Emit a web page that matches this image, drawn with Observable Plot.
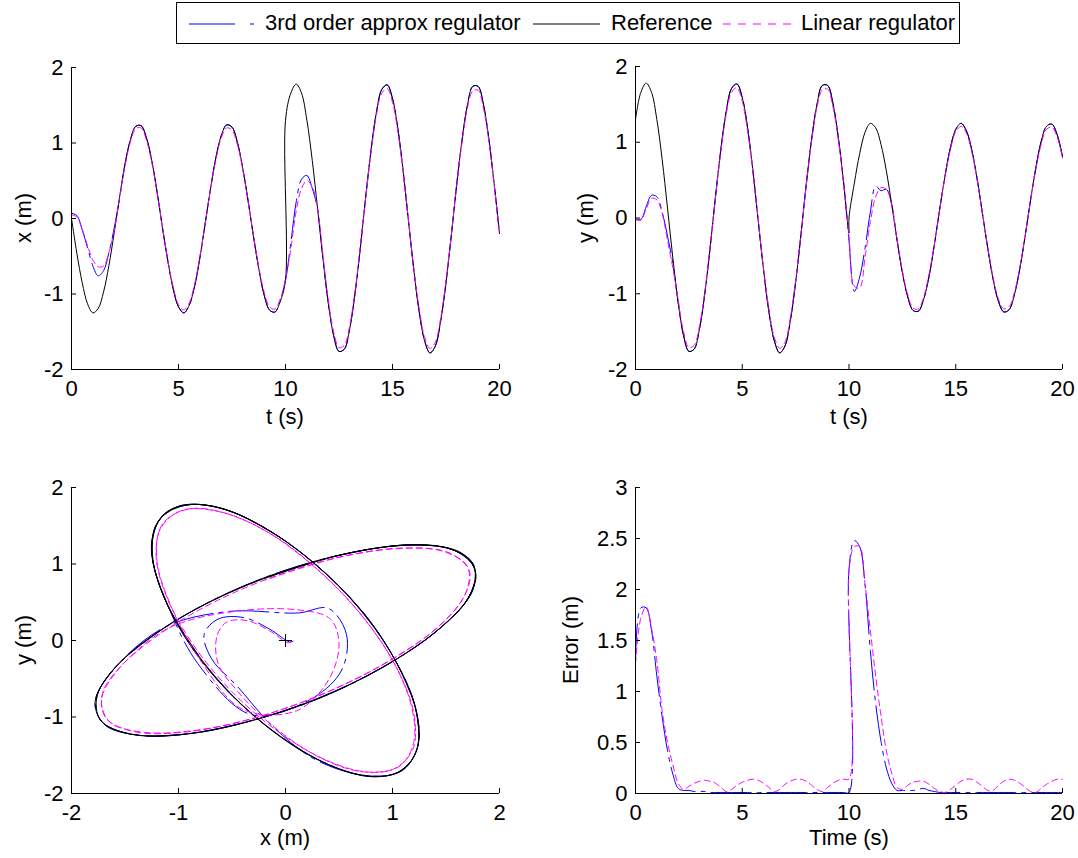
<!DOCTYPE html>
<html><head><meta charset="utf-8">
<script src="https://cdn.jsdelivr.net/npm/d3@7"></script>
<script src="https://cdn.jsdelivr.net/npm/@observablehq/plot@0.6"></script>
<style>
html,body{margin:0;padding:0;background:#fff;}
#wrap{position:relative;width:1078px;height:858px;overflow:hidden;font-family:"Liberation Sans",Arial,Helvetica,sans-serif;color:#000;}
.panel{position:absolute;}
.lbl{position:absolute;font-size:22px;line-height:1;white-space:nowrap;transform:translate(-50%,-50%);}
.lbl.rot{transform:translate(-50%,-50%) rotate(-90deg);}
#legend{position:absolute;left:176px;top:2px;width:782px;height:40px;border:1px solid #000;background:#fff;}
#legend .txt{position:absolute;top:9px;font-size:22px;line-height:1;white-space:nowrap;}
#legend svg{position:absolute;top:11px;}
</style></head>
<body>
<div id="wrap">
  <div id="legend">
    <svg style="left:10px" width="70" height="20"><line x1="2" y1="10" x2="48" y2="10" stroke="#0000ff" stroke-width="1"/><line x1="63" y1="10" x2="67" y2="10" stroke="#0000ff" stroke-width="1"/></svg>
    <span class="txt" style="left:88px">3rd order approx regulator</span>
    <svg style="left:356px" width="70" height="20"><line x1="0" y1="10" x2="67" y2="10" stroke="#000" stroke-width="1"/></svg>
    <span class="txt" style="left:434px">Reference</span>
    <svg style="left:546px" width="70" height="20"><line x1="0" y1="10" x2="68" y2="10" stroke="#ff00ff" stroke-width="1" stroke-dasharray="8,7"/></svg>
    <span class="txt" style="left:624px">Linear regulator</span>
  </div>
  <div class="panel" id="pA" style="left:0;top:50px"></div>
  <div class="panel" id="pB" style="left:560px;top:50px"></div>
  <div class="panel" id="pC" style="left:0;top:470px"></div>
  <div class="panel" id="pD" style="left:560px;top:470px"></div>
  <div class="lbl rot" style="left:24px;top:218px">x (m)</div>
  <div class="lbl" style="left:285px;top:417px">t (s)</div>
  <div class="lbl rot" style="left:586px;top:218px">y (m)</div>
  <div class="lbl" style="left:849px;top:417px">t (s)</div>
  <div class="lbl rot" style="left:24px;top:640px">y (m)</div>
  <div class="lbl" style="left:285px;top:838px">x (m)</div>
  <div class="lbl rot" style="left:571px;top:640px">Error (m)</div>
  <div class="lbl" style="left:849px;top:838px">Time (s)</div>
</div>
<script>
// ---- time grids ----
const tReg = [0,0.25,0.5,0.75,1,1.25,1.5,1.75,2,2.25,2.5,2.75,3,3.25,3.5,3.75,4,4.25,4.5,4.75,5,5.25,5.5,5.75,6,6.25,6.5,6.75,7,7.25,7.5,7.75,8,8.25,8.5,8.75,9,9.25,9.5,9.75,10,10.25,10.5,10.75,11,11.25,11.5,11.75,12,12.25,12.5,12.75,13,13.25,13.5,13.75,14,14.25,14.5,14.75,15,15.25,15.5,15.75,16,16.25,16.5,16.75,17,17.25,17.5,17.75,18,18.25,18.5,18.75,19,19.25,19.5,19.75,20];
const tRef = [0,0.25,0.5,0.75,1,1.25,1.5,1.75,2,2.25,2.5,2.75,3,3.25,3.5,3.75,4,4.25,4.5,4.75,5,5.25,5.5,5.75,6,6.25,6.5,6.75,7,7.25,7.5,7.75,8,8.25,8.5,8.75,9,9.25,9.5,9.75,10,10,10.25,10.5,10.75,11,11.25,11.5,11.75,12,12.25,12.5,12.75,13,13.25,13.5,13.75,14,14.25,14.5,14.75,15,15.25,15.5,15.75,16,16.25,16.5,16.75,17,17.25,17.5,17.75,18,18.25,18.5,18.75,19,19.25,19.5,19.75,20];

// ---- reference trajectory (jump at t = 10) ----
const xRef = [0,-0.46,-0.85,-1.13,-1.25,-1.19,-0.97,-0.62,-0.18,0.29,0.72,1.04,1.22,1.23,1.07,0.77,0.35,-0.12,-0.56,-0.93,-1.17,-1.25,-1.15,-0.90,-0.52,-0.06,0.40,0.81,1.10,1.24,1.21,1.01,0.67,0.24,-0.23,-0.66,-1.01,-1.21,-1.24,-1.10,-0.81,
  1.30,1.66,1.78,1.66,1.30,0.77,0.13,-0.53,-1.12,-1.55,-1.76,-1.73,-1.46,-0.99,-0.38,0.29,0.91,1.41,1.71,1.77,1.59,1.19,0.62,-0.04,-0.69,-1.24,-1.62,-1.78,-1.69,-1.36,-0.85,-0.22,0.45,1.04,1.50,1.75,1.75,1.51,1.06,0.46,-0.20];
const yRef = [1.30,1.66,1.78,1.66,1.30,0.77,0.13,-0.53,-1.12,-1.55,-1.76,-1.73,-1.46,-0.99,-0.38,0.29,0.91,1.41,1.71,1.77,1.59,1.19,0.62,-0.04,-0.69,-1.24,-1.62,-1.78,-1.69,-1.36,-0.85,-0.22,0.45,1.04,1.50,1.75,1.75,1.51,1.06,0.46,-0.20,
  0,0.46,0.85,1.13,1.25,1.19,0.97,0.62,0.18,-0.29,-0.72,-1.04,-1.22,-1.23,-1.07,-0.77,-0.35,0.12,0.56,0.93,1.17,1.25,1.15,0.90,0.52,0.06,-0.40,-0.81,-1.10,-1.24,-1.21,-1.01,-0.67,-0.24,0.23,0.66,1.01,1.21,1.24,1.10,0.81];

// ---- 3rd order approx regulator ----
const x3 = [0.07,0.04,-0.15,-0.39,-0.63,-0.76,-0.69,-0.45,-0.12,0.27,0.72,1.04,1.22,1.23,1.07,0.77,0.35,-0.12,-0.56,-0.93,-1.17,-1.25,-1.15,-0.90,-0.52,-0.06,0.40,0.81,1.10,1.24,1.21,1.01,0.67,0.24,-0.23,-0.66,-1.01,-1.21,-1.24,-1.10,
  -0.82,-0.32,0.22,0.52,0.57,0.40,0.12,-0.53,-1.12,-1.55,-1.76,-1.73,-1.46,-0.99,-0.38,0.29,0.91,1.41,1.71,1.77,1.59,1.19,0.62,-0.04,-0.69,-1.24,-1.62,-1.78,-1.69,-1.36,-0.85,-0.22,0.45,1.04,1.50,1.75,1.75,1.51,1.06,0.46,-0.20];
const y3 = [-0.01,-0.02,0.15,0.30,0.28,0.08,-0.24,-0.60,-1.12,-1.55,-1.76,-1.73,-1.46,-0.99,-0.38,0.29,0.91,1.41,1.71,1.77,1.59,1.19,0.62,-0.04,-0.69,-1.24,-1.62,-1.78,-1.69,-1.36,-0.85,-0.22,0.45,1.04,1.50,1.75,1.75,1.51,1.06,0.46,
  -0.30,-0.97,-0.78,-0.40,0.08,0.42,0.36,0.38,0.18,-0.29,-0.72,-1.04,-1.22,-1.23,-1.07,-0.77,-0.35,0.12,0.56,0.93,1.17,1.25,1.15,0.90,0.52,0.06,-0.40,-0.81,-1.10,-1.24,-1.21,-1.01,-0.67,-0.24,0.23,0.66,1.01,1.21,1.24,1.10,0.81];

// ---- linear regulator ----
const xLin = [0.05,0.02,-0.14,-0.36,-0.55,-0.64,-0.63,-0.45,-0.15,0.28,0.69,1.01,1.19,1.20,1.04,0.74,0.34,-0.11,-0.55,-0.90,-1.14,-1.21,-1.12,-0.87,-0.50,-0.06,0.39,0.78,1.07,1.20,1.17,0.98,0.65,0.23,-0.22,-0.64,-0.97,-1.17,-1.20,-1.07,
  -0.80,-0.40,0.10,0.40,0.50,0.42,0.12,-0.48,-1.08,-1.50,-1.71,-1.68,-1.42,-0.96,-0.36,0.28,0.88,1.37,1.66,1.72,1.54,1.15,0.60,-0.04,-0.67,-1.20,-1.57,-1.72,-1.64,-1.32,-0.82,-0.21,0.43,1.01,1.46,1.69,1.70,1.46,1.03,0.45,-0.19];
const yLin = [-0.02,-0.03,0.12,0.26,0.24,0.06,-0.30,-0.66,-1.08,-1.50,-1.71,-1.68,-1.42,-0.96,-0.36,0.28,0.88,1.37,1.66,1.72,1.54,1.15,0.60,-0.04,-0.67,-1.20,-1.57,-1.72,-1.64,-1.32,-0.82,-0.21,0.43,1.01,1.46,1.69,1.70,1.46,1.03,0.45,
  -0.25,-0.90,-0.92,-0.52,-0.05,0.28,0.40,0.38,0.17,-0.28,-0.69,-1.01,-1.19,-1.20,-1.04,-0.74,-0.34,0.11,0.55,0.90,1.14,1.21,1.12,0.87,0.50,0.06,-0.39,-0.78,-1.07,-1.20,-1.17,-0.98,-0.65,-0.23,0.22,0.64,0.97,1.17,1.20,1.07,0.79];

// ---- tracking error (on tRef grid) ----
const err3 = [1.27,1.82,1.82,1.60,1.15,0.75,0.42,0.19,0.05,0.03,0.03,0.02,0.02,0.02,
  0.01,0.01,0.01,0.01,0.01,0.01,0.01,0.01,0.01,0.01,0.01,0.01,0.01,0.01,0.01,0.01,0.01,0.01,0.01,0.01,0.01,0.01,0.01,0.01,0.01,0.01,0.01,
  2.20,2.48,2.42,2.05,1.40,0.88,0.51,0.25,0.10,0.03,0.03,0.03,0.03,0.04,0.05,0.03,0.02,
  0.01,0.01,0.01,0.01,0.01,0.01,0.01,0.01,0.01,0.01,0.01,0.01,0.01,0.01,0.01,0.01,0.01,0.01,0.01,0.01,0.01,0.01,0.01,0.01];
const errLin = [1.27,1.72,1.83,1.62,1.30,0.81,0.50,0.28,0.10,0.04,0.07,0.10,0.12,0.13,0.12,0.10,0.06,0.02,0.04,0.08,0.11,0.13,0.14,0.13,0.10,0.06,0.02,0.04,0.09,0.12,0.14,0.14,0.12,0.08,0.04,0.02,0.06,0.10,0.13,0.14,0.14,
  2.18,2.42,2.42,2.05,1.60,1.15,0.76,0.42,0.20,0.06,0.04,0.08,0.11,0.12,0.12,0.09,0.05,0.02,0.01,0.04,0.08,0.12,0.14,0.14,0.11,0.07,0.03,0.03,0.08,0.12,0.14,0.13,0.10,0.06,0.02,0.01,0.05,0.09,0.12,0.14,0.14];

const startPoint = [{x: 0, y: 0}];

const timeTicks = [0,5,10,15,20];
const posTicks = [-2,-1,0,1,2];
const errTicks = [0,0.5,1,1.5,2,2.5,3];

// ---- styles ----
const C3 = "#0000ff", CREF = "#000000", CLIN = "#ff00ff";
const dash3 = "40,6,4,6", dashLin = "6,4";
const FONT = "'Liberation Sans', Arial, Helvetica, sans-serif";

const refRows = tRef.map((t, i) => ({t, x: xRef[i], y: yRef[i], e3: err3[i], eL: errLin[i], seg: i <= 40 ? 0 : 1}));
const regRows = tReg.map((t, i) => ({t, x3: x3[i], y3: y3[i], xL: xLin[i], yL: yLin[i]}));

function axes(xDomain, yDomain, xt, yt) {
  return [
    Plot.ruleX([xDomain[0]], {stroke: "#000", strokeWidth: 1}),
    Plot.ruleY([yDomain[0]], {stroke: "#000", strokeWidth: 1}),
    Plot.axisX(xt, {tickSize: -5, tickFormat: () => "", label: null}),
    Plot.axisY(yt, {tickSize: -5, tickFormat: () => "", label: null}),
    Plot.axisX(xt, {tickSize: 0, tickPadding: 11, tickFormat: d => String(d), label: null, fill: "#000"}),
    Plot.axisY(yt, {tickSize: 0, tickPadding: 8, tickFormat: d => String(d), label: null, fill: "#000"})
  ];
}

function make(el, opts, xDomain, yDomain, xt, yt, marks) {
  const chart = Plot.plot({
    ...opts,
    style: {fontFamily: FONT, fontSize: "22px", color: "#000", background: "transparent", overflow: "visible"},
    x: {domain: xDomain, axis: null},
    y: {domain: yDomain, axis: null},
    marks: [...marks, ...axes(xDomain, yDomain, xt, yt)]
  });
  document.getElementById(el).appendChild(chart);
}

const curve = "catmull-rom";
function timeMarks(key3, keyRef, keyL) {
  return [
    Plot.line(regRows, {x: "t", y: key3, stroke: C3, strokeWidth: 1, strokeDasharray: dash3, curve}),
    Plot.line(refRows, {x: "t", y: keyRef, stroke: CREF, strokeWidth: 1, curve}),
    Plot.line(regRows, {x: "t", y: keyL, stroke: CLIN, strokeWidth: 1, strokeDasharray: dashLin, curve})
  ];
}

make("pA", {width: 540, height: 390, marginLeft: 71, marginRight: 41, marginTop: 17, marginBottom: 71},
  [0, 20], [-2, 2], timeTicks, posTicks, timeMarks("x3", "x", "xL"));

make("pB", {width: 518, height: 390, marginLeft: 75, marginRight: 16, marginTop: 16, marginBottom: 71},
  [0, 20], [-2, 2], timeTicks, posTicks, timeMarks("y3", "y", "yL"));

make("pC", {width: 540, height: 388, marginLeft: 71, marginRight: 41, marginTop: 17, marginBottom: 65},
  [-2, 2], [-2, 2], posTicks, posTicks, [
    Plot.line(regRows, {x: "x3", y: "y3", stroke: C3, strokeWidth: 1, strokeDasharray: dash3, curve}),
    Plot.line(refRows, {x: "x", y: "y", z: "seg", stroke: CREF, strokeWidth: 1, curve}),
    Plot.line(regRows, {x: "xL", y: "yL", stroke: CLIN, strokeWidth: 1, strokeDasharray: dashLin, curve}),
    Plot.dot(startPoint, {x: "x", y: "y", symbol: "plus", r: 4.3, stroke: "#000", strokeWidth: 1})
  ]);

make("pD", {width: 518, height: 388, marginLeft: 75, marginRight: 16, marginTop: 17, marginBottom: 65},
  [0, 20], [0, 3], timeTicks, errTicks, [
    Plot.line(refRows, {x: "t", y: "e3", stroke: C3, strokeWidth: 1, strokeDasharray: dash3, curve}),
    Plot.line(refRows, {x: "t", y: "eL", stroke: CLIN, strokeWidth: 1, strokeDasharray: dashLin, curve})
  ]);
</script>
</body></html>
